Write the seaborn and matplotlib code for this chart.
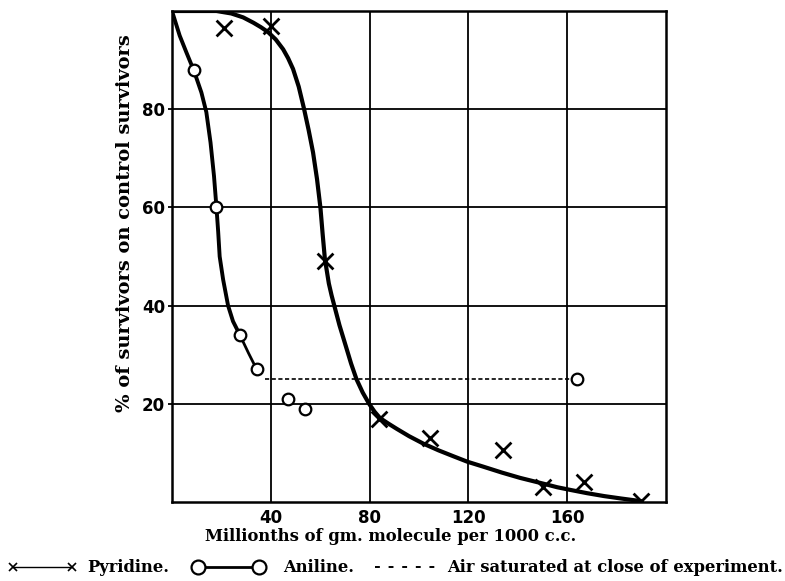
import matplotlib
matplotlib.use("Agg")
import matplotlib.pyplot as plt
from matplotlib.lines import Line2D
from matplotlib.legend_handler import HandlerLine2D
import seaborn as sns

# ---- data ----
pyr_x = [21, 40, 62, 84, 104.5, 134, 150, 167, 190]
pyr_y = [96.5, 97, 49, 17, 13, 10.5, 3, 4, 0.3]

ani_x = [9, 18, 27.5, 34.3, 46.8, 54, 164]
ani_y = [88, 60, 34, 27, 21, 19, 25]

# hand-drawn smooth curves
pyr_curve_x = [0, 10, 18, 24, 28.8, 33, 36, 38.9, 42, 45, 47, 49, 51.3, 53.4, 55.3, 57.1, 58.7,
               60.1, 61, 61.9, 63.5, 64.6, 65.7, 67.8, 70.4, 72.5, 74.7, 77.2, 79.8, 82, 84.2,
               87.5, 91, 96, 101.7, 108, 114, 119.6, 126, 133.5, 141, 150.6, 156, 161.4, 168,
               175, 182, 189.5]
pyr_curve_y = [100, 100, 100, 99.5, 98.7, 97.6, 96.7, 95.7, 94.2, 92.2, 90.4, 88.2, 84.6, 80.2,
               75.8, 71.2, 65.8, 59.9, 54.5, 49.5, 44.5, 42.1, 40, 36, 31.7, 28.2, 25, 22.3,
               20, 18.4, 17.1, 16, 14.9, 13.4, 11.9, 10.5, 9.3, 8.2, 7.2, 6.0, 4.9, 3.7, 3.0,
               2.45, 1.8, 1.2, 0.7, 0.2]

ani_curve_x = [0, 3.1, 5.8, 8.9, 11.9, 13.9, 15.6, 17.0, 18.0, 18.7, 19.3, 20.7, 22.7, 24.7, 27.4]
ani_curve_y = [100, 95, 91.6, 87.8, 83.4, 79.4, 73.2, 66.4, 60, 55, 50, 45.3, 40, 36.8, 34.1]
ani_tail_x = [27.4, 31, 34.2]
ani_tail_y = [34.1, 30.3, 27.1]

air_x = [37.5, 161.5]
air_y = [25, 25]

x_ticks = [40, 80, 120, 160]
y_ticks = [20, 40, 60, 80]

legend_labels = ["Pyridine.", "Aniline.", "Air saturated at close of experiment."]

# ---- plotting ----
sns.set_theme(style="white")
plt.rcParams['font.family'] = ['DejaVu Serif']
plt.rcParams['text.color'] = 'black'
plt.rcParams['xtick.color'] = 'black'
plt.rcParams['ytick.color'] = 'black'

fig = plt.figure(figsize=(7.85, 5.81), dpi=100)
ax = fig.add_axes([172/785, 1-502/581, (666-172)/785, (502-11)/581])

ax.set_xlim(0, 200)
ax.set_ylim(0, 100)
ax.set_xticks(x_ticks)
ax.set_yticks(y_ticks)
ax.grid(True, color='black', linewidth=1.3)
ax.set_axisbelow(True)
for s in ax.spines.values():
    s.set_color('black')
    s.set_linewidth(1.8)

lkw = dict(sort=False, color='black', ax=ax, zorder=3)
sns.lineplot(x=pyr_curve_x, y=pyr_curve_y, linewidth=3.0, solid_joinstyle='round',
             solid_capstyle='round', **lkw)
sns.lineplot(x=ani_curve_x, y=ani_curve_y, linewidth=2.8, solid_joinstyle='round',
             solid_capstyle='round', **lkw)
sns.lineplot(x=ani_tail_x, y=ani_tail_y, linewidth=2.0, solid_joinstyle='round', **lkw)
sns.lineplot(x=air_x, y=air_y, linewidth=1.2, linestyle=(0, (2.5, 1.5)), **lkw)

sns.scatterplot(x=pyr_x, y=pyr_y, marker='x', s=130, color='black', linewidth=2.0, ax=ax, zorder=4)
sns.scatterplot(x=ani_x, y=ani_y, marker='o', s=70, facecolor='white', edgecolor='black',
                linewidth=1.6, ax=ax, zorder=5)

tick_font = dict(family='DejaVu Sans', weight='bold', size=12, color='black')
ax.set_xticklabels([str(t) for t in x_ticks], fontdict=tick_font)
ax.set_yticklabels([str(t) for t in y_ticks], fontdict=tick_font)
ax.tick_params(axis='x', length=0, pad=5)
ax.tick_params(axis='y', length=3, width=1.3, color='black', pad=2, left=True)

ax.set_xlabel("Millionths of gm. molecule per 1000 c.c.", family='DejaVu Serif',
              weight='bold', size=11.8, color='black')
ax.xaxis.set_label_coords(0.443, -0.071)
ax.xaxis.label.set_va('center')
ax.set_ylabel("% of survivors on control survivors", family='DejaVu Serif',
              weight='bold', size=14, color='black')
ax.yaxis.set_label_coords(-0.095, 0.568)
ax.yaxis.label.set_va('center')

handles = [
    Line2D([0], [0], color='black', linewidth=1.0, marker='x', markersize=6, markeredgewidth=1.2),
    Line2D([0], [0], color='black', linewidth=2.0, marker='o', markersize=10,
           markerfacecolor='white', markeredgewidth=1.6),
    Line2D([0], [0], color='black', linewidth=1.4, linestyle=(0, (2.5, 4.5))),
]
fs = 11.8
fpx = fs * 100 / 72
leg_specs = [  # (left px, handle length px, text pad px)
    (13, 59, 15),
    (198, 61, 24),
    (375, 65, 7),
]
y_leg = 1 - 568 / 581
for h, lab, (x0, hl, tp) in zip(handles, legend_labels, leg_specs):
    fig.legend([h], [lab], loc='center left', bbox_to_anchor=(x0 / 785, y_leg),
               frameon=False, prop=dict(family='DejaVu Serif', weight='bold', size=fs),
               handlelength=hl / fpx, handletextpad=tp / fpx, borderpad=0,
               borderaxespad=0, numpoints=2, labelcolor='black',
               handler_map={h: HandlerLine2D(marker_pad=0)})

fig.savefig("out.png", dpi=100, facecolor='white')
